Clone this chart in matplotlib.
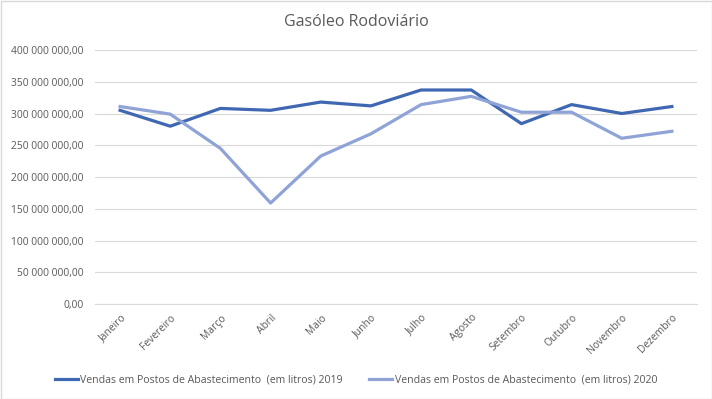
import matplotlib
matplotlib.use('Agg')
import matplotlib.pyplot as plt
from matplotlib.patches import Rectangle
from matplotlib.ticker import FuncFormatter, MultipleLocator

plt.rcParams['font.family'] = ['Open Sans', 'DejaVu Sans']

# ─── Data ─────────────────────────────────────────────────────────────────────
MONTHS = ['Janeiro', 'Fevereiro', 'Março', 'Abril', 'Maio', 'Junho',
          'Julho', 'Agosto', 'Setembro', 'Outubro', 'Novembro', 'Dezembro']
SALES_2019 = [305e6, 280e6, 308e6, 305e6, 318e6, 312e6,
              337e6, 337e6, 284e6, 314e6, 300e6, 311e6]
SALES_2020 = [311e6, 299e6, 245e6, 159e6, 233e6, 268e6,
              314e6, 327e6, 302e6, 302e6, 261e6, 272e6]
LABEL_2019 = 'Vendas em Postos de Abastecimento  (em litros) 2019'
LABEL_2020 = 'Vendas em Postos de Abastecimento  (em litros) 2020'

C2019 = '#4068B2'
C2020 = '#8FA3D6'
GRID = '#D9D9D9'
TXT = '#595959'

W, H = 712, 399
fig = plt.figure(figsize=(W / 100, H / 100), dpi=100)
fig.patch.set_facecolor('white')
ax = fig.add_axes([95 / W, (H - 304) / H, 602 / W, 254 / H])

x = range(len(MONTHS))
ax.plot(x, SALES_2019, color=C2019, lw=2.3, label=LABEL_2019, zorder=3)
ax.plot(x, SALES_2020, color=C2020, lw=2.3, label=LABEL_2020, zorder=3)

ax.set_xlim(-0.5, len(MONTHS) - 0.5)
ax.set_ylim(0, 400e6)
ax.yaxis.set_major_locator(MultipleLocator(50e6))
ax.yaxis.set_major_formatter(FuncFormatter(
    lambda v, _: f'{v:,.2f}'.replace(',', ' ').replace('.', ',')))
ax.grid(axis='y', color=GRID, lw=0.8)
ax.set_axisbelow(True)
for s in ['top', 'right', 'left']:
    ax.spines[s].set_visible(False)
ax.spines['bottom'].set_color(GRID)
ax.spines['bottom'].set_linewidth(0.8)

ax.set_xticks(list(x))
ax.set_xticklabels(MONTHS, rotation=45, ha='right', rotation_mode='anchor')
ax.tick_params(axis='both', length=0, labelsize=7.4, labelcolor=TXT)
ax.tick_params(axis='y', pad=8)
ax.tick_params(axis='x', pad=6)

fig.text(0.5, 1 - 22 / H, 'Gasóleo Rodoviário', ha='center', va='center',
         fontsize=11.5, color=TXT)

fig.legend(loc='center', bbox_to_anchor=(0.5, 1 - 380 / H), ncol=2,
           frameon=False, fontsize=7.6, handlelength=2.2, handletextpad=0.2,
           columnspacing=2.5, labelcolor=TXT)

fig.add_artist(Rectangle((0.5 / W, 0.5 / H), 1 - 1 / W, 1 - 1 / H,
                         transform=fig.transFigure, fill=False,
                         edgecolor=GRID, lw=1))

fig.savefig('out.png', dpi=100)
